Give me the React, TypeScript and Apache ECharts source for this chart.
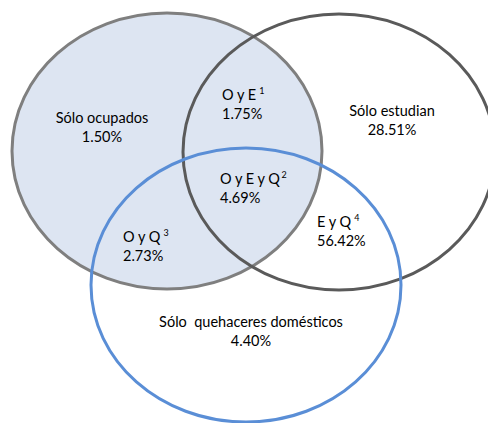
import React, { useEffect, useRef } from "react";
import * as echarts from "echarts";

// Region names, superscript note markers and shares (%)
const regionNames = [
  "Sólo ocupados",
  "O y E",
  "Sólo estudian",
  "O y E y Q",
  "O y Q",
  "E y Q",
  "Sólo  quehaceres domésticos",
];
const regionNotes = ["", " 1", "", "2", " 3", " 4", ""];
const regionValues = [1.5, 1.75, 28.51, 4.69, 2.73, 56.42, 4.4];

// Layout (positions only)
const labelPos: [number, number, string][] = [
  [102, 127, "center"],
  [222, 104, "left"],
  [392, 120, "center"],
  [220, 188, "left"],
  [123, 246, "left"],
  [317, 231, "left"],
  [251, 331, "center"],
];

const sets = [
  { cx: 167, cy: 151, rx: 155, ry: 138, stroke: "#7f7f7f", fill: "#dde5f2" },
  { cx: 339, cy: 152, rx: 156, ry: 138, stroke: "#5a5a5a", fill: "none" },
  { cx: 246, cy: 285, rx: 155, ry: 137, stroke: "#5a8ed6", fill: "none" },
];

export default function App() {
  const ref = useRef<HTMLDivElement>(null);
  useEffect(() => {
    const chart = echarts.init(ref.current!, null, { renderer: "svg" });
    const ellipses = sets.map((s) => ({
      type: "ellipse",
      shape: { cx: s.cx, cy: s.cy, rx: s.rx, ry: s.ry },
      style: { fill: s.fill === "none" ? null : s.fill, stroke: s.stroke, lineWidth: 3 },
    }));
    const texts = regionNames.map((name, i) => {
      const [x, y, align] = labelPos[i];
      const val = regionValues[i].toFixed(2) + "%";
      const sup = regionNotes[i];
      const first = sup ? `{a|${name}}{s|${sup}}` : `{a|${name}}`;
      return {
        type: "text",
        x,
        y,
        style: {
          text: first + "\n" + `{a|${val}}`,
          align: align as any,
          verticalAlign: "middle",
          fill: "#000",
          font: '14.5px Lato, "Noto Sans", sans-serif',
          rich: {
            a: { fontSize: 14.5, fontFamily: "Lato", lineHeight: 19, fill: "#000" },
            s: { fontSize: 9, fontFamily: "Lato", lineHeight: 19, fill: "#000", padding: [0, 0, 9, 0] },
          },
        },
      };
    });
    chart.setOption({
      animation: false,
      graphic: [...ellipses, ...texts],
    });
    return () => chart.dispose();
  }, []);
  return (
    <div
      ref={ref}
      style={{ position: "fixed", left: 0, top: 0, width: 488, height: 423, background: "#fff" }}
    />
  );
}
